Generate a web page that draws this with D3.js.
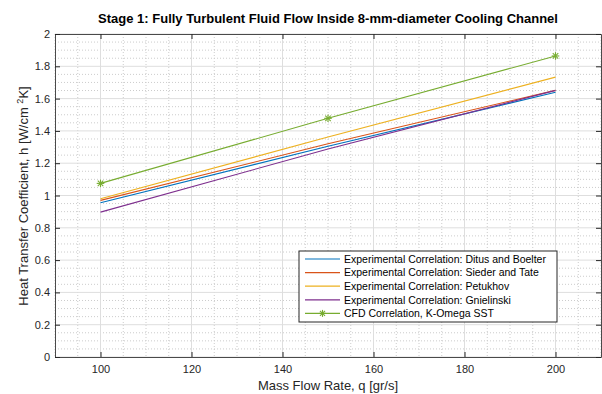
<!DOCTYPE html>
<html>
<head>
<meta charset="utf-8">
<script src="https://cdn.jsdelivr.net/npm/d3@7"></script>
<style>
  body { margin: 0; background: #fff; }
  svg { display: block; font-family: 'Liberation Sans', Arial, sans-serif; }
</style>
</head>
<body>
<svg id="chart"></svg>
<script>
const massFlow = [100, 150, 200]
const ditusBoelter = [0.955, 1.305, 1.639]
const siederTate = [0.970, 1.320, 1.651]
const petukhov = [0.980, 1.362, 1.733]
const gnielinski = [0.897, 1.288, 1.651]
const cfdSST = [1.075, 1.478, 1.864]

const seriesNames = [
  'Experimental Correlation: Ditus and Boelter',
  'Experimental Correlation: Sieder and Tate',
  'Experimental Correlation: Petukhov',
  'Experimental Correlation: Gnielinski',
  'CFD Correlation, K-Omega SST'
]
const xTicks = [100, 120, 140, 160, 180, 200]
const yTicks = [0, 0.2, 0.4, 0.6, 0.8, 1, 1.2, 1.4, 1.6, 1.8, 2]

const series = [
  { name: seriesNames[0], values: ditusBoelter, color: '#0072BD', marker: false },
  { name: seriesNames[1], values: siederTate, color: '#D95319', marker: false },
  { name: seriesNames[2], values: petukhov, color: '#EDB120', marker: false },
  { name: seriesNames[3], values: gnielinski, color: '#7E2F8E', marker: false },
  { name: seriesNames[4], values: cfdSST, color: '#77AC30', marker: true }
]

const W = 602, H = 394
const margin = { top: 34, right: 1, bottom: 37, left: 55 }
const width = W - margin.left - margin.right
const height = H - margin.top - margin.bottom

const svg = d3.select('#chart').attr('width', W).attr('height', H)
const g = svg.append('g').attr('transform', `translate(${margin.left},${margin.top})`)

const x = d3.scaleLinear().domain([90, 210]).range([0, width])
const y = d3.scaleLinear().domain([0, 2]).range([height, 0])

// minor grid (dotted)
const xMinor = d3.range(90, 210.01, 5).filter(v => v % 20 !== 0)
const yMinor = d3.range(0, 2.001, 0.05).filter(v => Math.abs(v / 0.2 - Math.round(v / 0.2)) > 1e-6)
g.selectAll('.xminor').data(xMinor).join('line')
  .attr('x1', d => x(d)).attr('x2', d => x(d)).attr('y1', 0).attr('y2', height)
  .attr('stroke', '#cccccc').attr('stroke-width', 1).attr('stroke-dasharray', '1,2')
g.selectAll('.yminor').data(yMinor).join('line')
  .attr('x1', 0).attr('x2', width).attr('y1', d => y(d)).attr('y2', d => y(d))
  .attr('stroke', '#cccccc').attr('stroke-width', 1).attr('stroke-dasharray', '1,2')

// major grid
g.selectAll('.xgrid').data(xTicks).join('line')
  .attr('x1', d => x(d)).attr('x2', d => x(d)).attr('y1', 0).attr('y2', height)
  .attr('stroke', '#dedede').attr('stroke-width', 1)
g.selectAll('.ygrid').data(yTicks).join('line')
  .attr('x1', 0).attr('x2', width).attr('y1', d => y(d)).attr('y2', d => y(d))
  .attr('stroke', '#dedede').attr('stroke-width', 1)

// axes (ticks inward, box on)
const styleAxis = sel => {
  sel.selectAll('.domain').attr('stroke', '#4a4a4a')
  sel.selectAll('.tick line').attr('stroke', '#262626')
  sel.selectAll('.tick text').attr('fill', '#262626').style('font-size', '11px')
}
g.append('g').attr('transform', `translate(0,${height})`)
  .call(d3.axisBottom(x).tickValues(xTicks).tickSizeInner(-5).tickSizeOuter(0).tickPadding(8))
  .call(styleAxis)
g.append('g')
  .call(d3.axisTop(x).tickValues(xTicks).tickSizeInner(-5).tickSizeOuter(0).tickFormat(''))
  .call(styleAxis)
g.append('g')
  .call(d3.axisLeft(y).tickValues(yTicks).tickFormat(d3.format('~g')).tickSizeInner(-5).tickSizeOuter(0).tickPadding(5))
  .call(styleAxis)
g.append('g').attr('transform', `translate(${width},0)`)
  .call(d3.axisRight(y).tickValues(yTicks).tickSizeInner(-5).tickSizeOuter(0).tickFormat(''))
  .call(styleAxis)

// lines
const line = d3.line().x((d, i) => x(massFlow[i])).y(d => y(d))
series.forEach(s => {
  g.append('path').datum(s.values)
    .attr('fill', 'none').attr('stroke', s.color).attr('stroke-width', 1.1)
    .attr('d', line)
})

// asterisk markers
const star = (sel, cx, cy, r, color) => {
  const a = sel.append('g').attr('transform', `translate(${cx},${cy})`)
    .attr('stroke', color).attr('stroke-width', 1.1)
  a.append('line').attr('x1', -r).attr('x2', r).attr('y1', 0).attr('y2', 0)
  a.append('line').attr('x1', 0).attr('x2', 0).attr('y1', -r).attr('y2', r)
  const d = r * 0.72
  a.append('line').attr('x1', -d).attr('x2', d).attr('y1', -d).attr('y2', d)
  a.append('line').attr('x1', -d).attr('x2', d).attr('y1', d).attr('y2', -d)
}
series.filter(s => s.marker).forEach(s => {
  s.values.forEach((v, i) => star(g, x(massFlow[i]), y(v), 3.8, s.color))
})

// title
svg.append('text')
  .attr('x', margin.left + width / 2).attr('y', 23)
  .attr('text-anchor', 'middle')
  .style('font-size', '13px').style('font-weight', 'bold').attr('fill', '#000')
  .text('Stage 1: Fully Turbulent Fluid Flow Inside 8-mm-diameter Cooling Channel')

// x label
svg.append('text')
  .attr('x', margin.left + width / 2).attr('y', 390)
  .attr('text-anchor', 'middle')
  .style('font-size', '13px').attr('fill', '#262626')
  .text('Mass Flow Rate, q [gr/s]')

// y label
const yl = svg.append('text')
  .attr('transform', `translate(28,196) rotate(-90)`)
  .attr('text-anchor', 'middle')
  .style('font-size', '13px').attr('fill', '#262626')
yl.append('tspan').text('Heat Transfer Coefficient, h [W/cm ')
yl.append('tspan').attr('dy', -5).style('font-size', '9px').text('2')
yl.append('tspan').attr('dy', 5).text('K]')

// legend
const lg = svg.append('g').attr('transform', 'translate(299,251)')
lg.append('rect').attr('width', 258).attr('height', 71)
  .attr('fill', '#fff').attr('stroke', '#262626').attr('stroke-width', 1)
series.forEach((s, i) => {
  const ly = 8 + i * 13.6
  lg.append('line').attr('x1', 6).attr('x2', 41).attr('y1', ly).attr('y2', ly)
    .attr('stroke', s.color).attr('stroke-width', 1.2)
  if (s.marker) star(lg, 23.5, ly, 3.5, s.color)
  lg.append('text').attr('x', 45).attr('y', ly + 3.8)
    .style('font-size', '10.5px').attr('fill', '#000')
    .text(s.name)
})
</script>
</body>
</html>
